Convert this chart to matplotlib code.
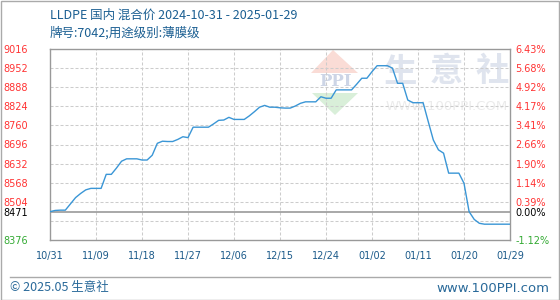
import matplotlib.pyplot as plt
import numpy as np
import pandas as pd
from matplotlib.patches import Polygon, Rectangle
from matplotlib.lines import Line2D

plt.rcParams['font.family'] = ['DejaVu Sans']
cjk = ['Noto Sans CJK SC', 'DejaVu Sans']

# daily price, 2024-10-31 .. 2025-01-29
start = '2024-10-31'
prices = [8471, 8475, 8476, 8476, 8497, 8518, 8532, 8544, 8549, 8549,
          8549, 8596, 8596, 8617, 8640, 8648, 8648, 8648, 8644, 8644,
          8660, 8700, 8707, 8706, 8706, 8713, 8722, 8719, 8754, 8754,
          8754, 8754, 8765, 8777, 8778, 8787, 8780, 8780, 8780, 8792,
          8806, 8821, 8827, 8821, 8821, 8819, 8818, 8818, 8825, 8834,
          8839, 8839, 8839, 8856, 8851, 8851, 8879, 8879, 8879, 8879,
          8898, 8918, 8918, 8940, 8960, 8960, 8960, 8952, 8901, 8901,
          8845, 8836, 8836, 8836, 8773, 8711, 8678, 8667, 8600, 8600,
          8600, 8566, 8471, 8445, 8432, 8429, 8429, 8429, 8429, 8429,
          8429]
base = 8471
ymin, ymax, ystep = 8376, 9016, 64
xstep = 9
left_labels = [8376, 8471, 8504, 8568, 8632, 8696, 8760, 8824, 8888, 8952, 9016]
right_labels = ['-1.12%', '0.00%', '0.39%', '1.14%', '1.90%', '2.66%', '3.41%',
                '4.17%', '4.92%', '5.68%', '6.43%']

dates = pd.date_range(start, periods=len(prices))
x = np.arange(len(prices))

W, H = 560, 300
fig = plt.figure(figsize=(W / 100, H / 100), dpi=100)
ax = fig.add_axes([50 / W, 60 / H, 460 / W, 191 / H])
ax.set_facecolor('none')


def fx(px):
    return px / W


def fy(py):
    return 1 - py / H


# watermark
fig.patches.append(Polygon([(fx(333), fy(50)), (fx(311), fy(73)), (fx(358), fy(73))],
                           closed=True, transform=fig.transFigure, facecolor='#fadcd6',
                           edgecolor='none', zorder=-2))
fig.patches.append(Polygon([(fx(312), fy(93)), (fx(358), fy(93)), (fx(335), fy(115))],
                           closed=True, transform=fig.transFigure, facecolor='#d9efd9',
                           edgecolor='none', zorder=-2))
fig.text(fx(335), fy(82), 'PPI', color='#cdd5e6', fontsize=12, fontweight='bold',
         family='DejaVu Serif', ha='center', va='center', zorder=-1)
for cx, ch in zip([401, 446, 492], '生意社'):
    fig.text(fx(cx), fy(72), ch, color='#dfe4ee', fontsize=24, fontweight='bold',
             family=cjk, ha='center', va='center', zorder=-1)
fig.text(fx(447), fy(107), 'WWW.100PPI.COM', color='#ebebeb', fontsize=9.5,
         ha='center', va='center', zorder=-1)

# grid
dash = (0, (2.9, 1.9))
for v in range(ymin + ystep, ymax, ystep):
    ax.axhline(v, color='#cccccc', lw=0.75, ls=dash, zorder=1)
for d in range(xstep, len(prices) - 1, xstep):
    ax.axvline(d, color='#cccccc', lw=0.75, ls=dash, zorder=1)
ax.axhline(base, color='#999999', lw=1.2, zorder=2)

ax.plot(x, prices, color='#3a96d6', lw=1.0, zorder=3)

ax.set_xlim(0, len(prices) - 1)
ax.set_ylim(ymin, ymax)

for s in ax.spines.values():
    s.set_color('#999999')
    s.set_linewidth(1.0)


def label_color(v):
    if v == base:
        return '#000000'
    return '#33aa33' if v < base else '#ff3333'


# left labels
ax.set_yticks(left_labels)
ax.set_yticklabels([str(v) for v in left_labels], fontsize=7)
ax.tick_params(axis='y', length=0, pad=16)
for lab, v in zip(ax.get_yticklabels(), left_labels):
    lab.set_color(label_color(v))

# right labels
ax2 = ax.twinx()
ax2.set_ylim(ymin, ymax)
ax2.set_yticks(left_labels)
ax2.set_yticklabels(right_labels, fontsize=7)
ax2.tick_params(axis='y', length=0, pad=4)
for lab, v in zip(ax2.get_yticklabels(), left_labels):
    lab.set_color(label_color(v))
for s in ax2.spines.values():
    s.set_visible(False)

# x labels
xt = list(range(0, len(prices), xstep))
ax.set_xticks(xt)
ax.set_xticklabels([dates[i].strftime('%m/%d') for i in xt], fontsize=7, color='#1b5a8a')
ax.tick_params(axis='x', length=0, pad=8)

# titles and footer
fig.text(fx(50), fy(15), 'LLDPE 国内 混合价 2024-10-31 - 2025-01-29', fontsize=9,
         color='#1b5f92', family=cjk, ha='left', va='center')
fig.text(fx(50), fy(33), '牌号:7042;用途级别:薄膜级', fontsize=9,
         color='#1b5f92', family=cjk, ha='left', va='center')
fig.lines.append(Line2D([fx(10), fx(550)], [fy(277), fy(277)], transform=fig.transFigure,
                        color='#aaaaaa', lw=1))
fig.text(fx(10), fy(288), '© 2025.05 生意社', fontsize=9, color='#2a6a9a',
         family=cjk, ha='left', va='center')
fig.text(fx(549), fy(288), 'www.100PPI.com', fontsize=9.5, color='#2a6a9a',
         ha='right', va='center')
fig.patches.append(Rectangle((0.5 / W, 0.5 / H), 1 - 1.5 / W, 1 - 1.5 / H, fill=False,
                             transform=fig.transFigure, edgecolor='#aaaaaa', lw=1))

fig.savefig('out.png', dpi=100)
